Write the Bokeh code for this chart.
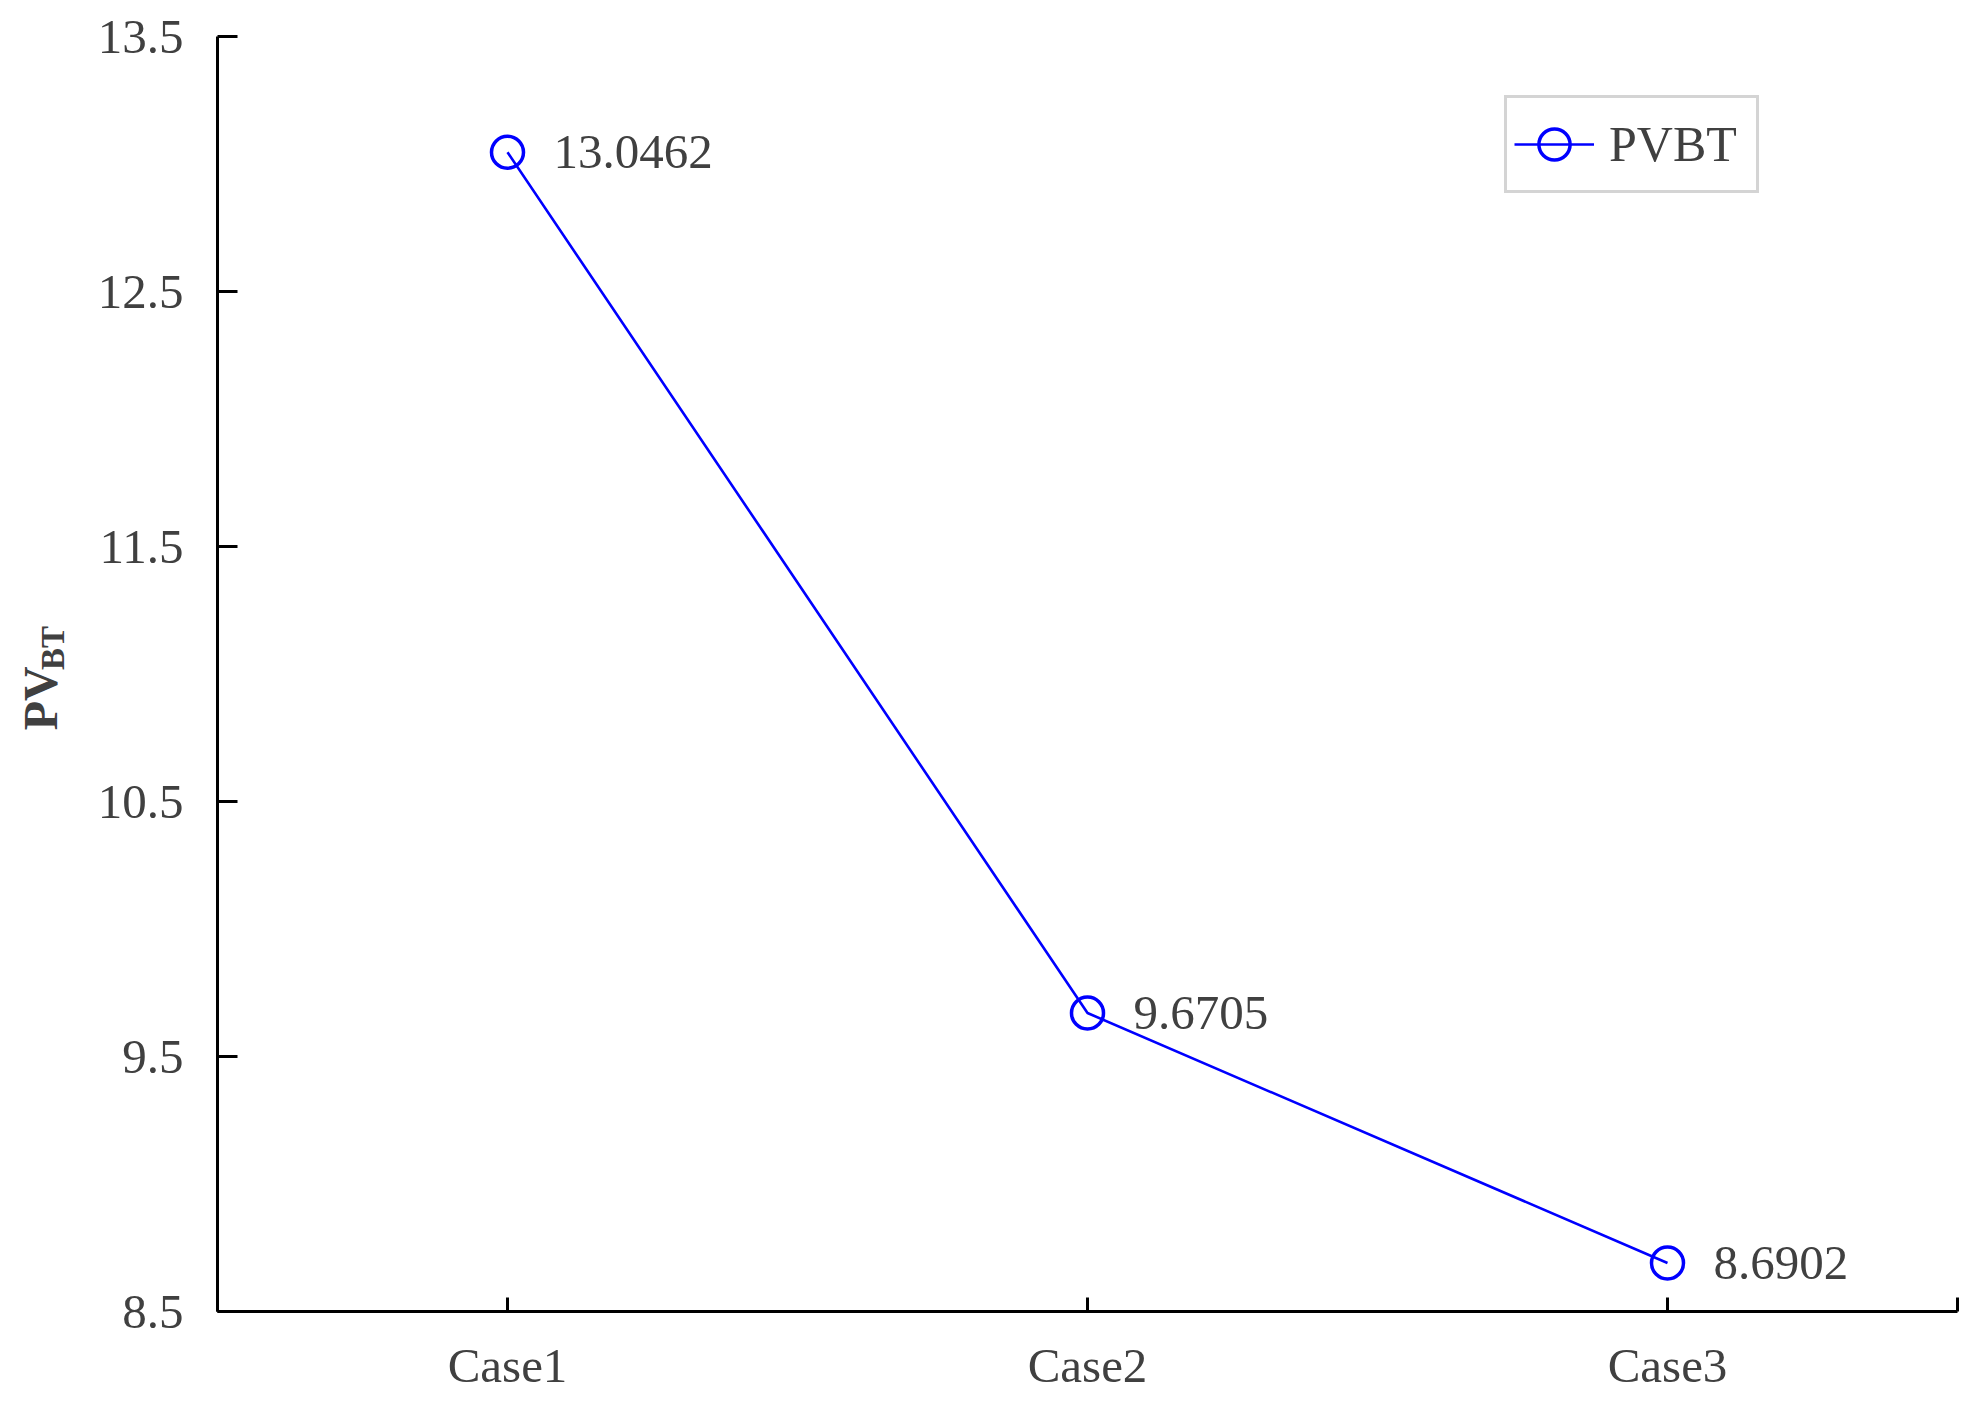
import math
from bokeh.plotting import figure
from bokeh.layouts import row
from bokeh.models import ColumnDataSource, FixedTicker, Label, Legend, LegendItem, Range1d
from bokeh.core.properties import value
from bokeh.embed import file_html
from bokeh.resources import INLINE

categories = ["Case1", "Case2", "Case3"]
pvbt = [13.0462, 9.6705, 8.6902]
y_ticks = [8.5, 9.5, 10.5, 11.5, 12.5, 13.5]
y_title_main = "PV"
y_title_sub = "BT"
series_name = "PVBT"

FONT = "Liberation Serif"
TXT = "#404040"
BLUE = "#0000FF"
H = 1395
LW = 90  # width of the y-title strip

xs = [i + 1 for i in range(len(categories))]
src = ColumnDataSource(dict(x=xs, y=pvbt, lab=[f"{v:.4f}" for v in pvbt]))

p = figure(width=1964 - LW, height=H, output_backend="svg", toolbar_location=None,
           x_range=(0.5, len(categories) + 0.5), y_range=(y_ticks[0], y_ticks[-1]),
           min_border_left=217 - LW, min_border_right=7, min_border_top=36, min_border_bottom=82)
p.outline_line_color = None
p.xgrid.visible = False
p.ygrid.visible = False

xt = [0.5] + xs + [len(categories) + 0.5]
p.xaxis.ticker = FixedTicker(ticks=xt)
ov = {0.5: "", len(categories) + 0.5: ""}
for i, c in enumerate(categories):
    ov[i + 1] = c
p.xaxis.major_label_overrides = ov
p.yaxis.ticker = FixedTicker(ticks=y_ticks)
p.yaxis.major_label_overrides = {t: f"{t}" for t in y_ticks}

for ax in (p.xaxis, p.yaxis):
    ax.axis_line_color = "black"
    ax.axis_line_width = 3
    ax.major_tick_line_color = "black"
    ax.major_tick_line_width = 3
    ax.major_tick_out = 0
    ax.minor_tick_line_color = None
    ax.major_label_text_font = FONT
    ax.major_label_text_font_size = "49px"
    ax.major_label_text_color = TXT
p.xaxis.major_tick_in = 14
p.yaxis.major_tick_in = 20
p.xaxis.major_label_standoff = 26
p.yaxis.major_label_standoff = 34

ln = p.line("x", "y", source=src, line_color=BLUE, line_width=2.6)
sc = p.scatter("x", "y", source=src, marker="circle", size=32, line_color=BLUE,
               line_width=3.5, fill_alpha=0)
p.text("x", "y", text="lab", source=src, x_offset=46, text_baseline="middle",
       text_align="left", text_font=value(FONT), text_font_size="49px", text_color=TXT)

legend = Legend(items=[LegendItem(label=series_name, renderers=[ln, sc])],
                location=(1287, 1118), glyph_width=80, glyph_height=78,
                label_standoff=15, padding=7, label_height=60, label_width=140,
                label_text_font=FONT, label_text_font_size="50px", label_text_color=TXT,
                border_line_color="#aaaaaa", border_line_width=3,
                background_fill_color="white", background_fill_alpha=1.0)
p.add_layout(legend, "center")

# strip at the left holding the y-axis title PV with subscript BT
t = figure(width=LW, height=H, output_backend="svg", toolbar_location=None,
           x_range=Range1d(0, LW), y_range=Range1d(0, H),
           x_axis_location=None, y_axis_location=None,
           min_border_left=0, min_border_right=0, min_border_top=0, min_border_bottom=0)
t.outline_line_color = None
t.grid.visible = False
t.add_layout(Label(x=40, y=H - 759, text=y_title_main, angle=math.pi / 2,
                   text_font=FONT, text_font_size="48px", text_font_style="bold",
                   text_color=TXT, text_baseline="alphabetic", text_align="left"))
t.add_layout(Label(x=52, y=H - 693, text=y_title_sub, angle=math.pi / 2,
                   text_font=FONT, text_font_size="33px", text_font_style="bold",
                   text_color=TXT, text_baseline="alphabetic", text_align="left"))

layout = row(t, p, spacing=0)
open("out.html", "w").write(file_html(layout, INLINE))
